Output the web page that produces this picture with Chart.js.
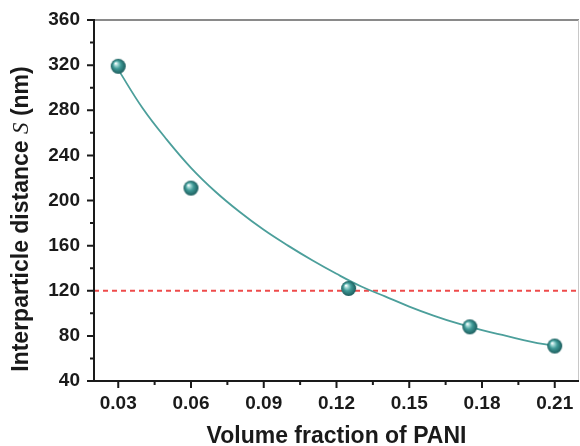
<!DOCTYPE html>
<html>
<head>
<meta charset="utf-8">
<script src="https://cdn.jsdelivr.net/npm/chart.js@4.4.0/dist/chart.umd.min.js"></script>
<style>
  body { margin: 0; background: #fff; }
  canvas { display: block; }
</style>
</head>
<body>
<canvas id="chart" width="580" height="446"></canvas>
<script>
// datos
const fractions = [0.03, 0.06, 0.125, 0.175, 0.21];
const distances = [319, 211, 122, 88, 71];

// curva de ajuste leída punto a punto
const fitFractions = [0.03, 0.04, 0.05, 0.06, 0.07, 0.08, 0.09, 0.10, 0.11, 0.12,
  0.13, 0.14, 0.15, 0.16, 0.17, 0.18, 0.19, 0.20, 0.21];
const fitDistances = [316, 282, 254, 229, 208, 190, 174, 160, 147, 135,
  124, 115, 106, 98, 91, 85, 80, 75, 71];

const threshold = 120;

const xTicks = [0.03, 0.06, 0.09, 0.12, 0.15, 0.18, 0.21];
const xMinor = [0.045, 0.075, 0.105, 0.135, 0.165, 0.195];
const yTicks = [40, 80, 120, 160, 200, 240, 280, 320, 360];
const yMinor = [60, 100, 140, 180, 220, 260, 300, 340];

const ink = "#1a1a1a";

// esfera 3D para los marcadores
function makeSphere(r) {
  const c = document.createElement("canvas");
  c.width = c.height = r * 2 + 2;
  const g = c.getContext("2d");
  const cx = r + 1, cy = r + 1;
  const grad = g.createRadialGradient(cx - r * 0.35, cy - r * 0.4, r * 0.05, cx, cy, r);
  grad.addColorStop(0, "#ffffff");
  grad.addColorStop(0.18, "#a8dcd9");
  grad.addColorStop(0.5, "#3f9a97");
  grad.addColorStop(1, "#1b5c5c");
  g.fillStyle = grad;
  g.beginPath();
  g.arc(cx, cy, r, 0, Math.PI * 2);
  g.fill();
  return c;
}
const sphere = makeSphere(7.5);

// marco, marcas menores y títulos de ejes
const framePlugin = {
  id: "frame",
  beforeDatasetsDraw(chart) {
    const { ctx, chartArea: a } = chart;
    ctx.save();
    // arriba y derecha en gris
    ctx.strokeStyle = "#8a8a8a";
    ctx.lineWidth = 2;
    ctx.beginPath();
    ctx.moveTo(a.left, a.top);
    ctx.lineTo(a.right, a.top);
    ctx.stroke();
    ctx.strokeStyle = "#c8c8c8";
    ctx.lineWidth = 1;
    ctx.beginPath();
    ctx.moveTo(a.right - 0.5, a.top);
    ctx.lineTo(a.right - 0.5, a.bottom);
    ctx.stroke();
    ctx.restore();
  },
  afterDraw(chart) {
    const { ctx, chartArea: a, scales } = chart;
    const x = scales.x, y = scales.y;
    ctx.save();
    ctx.strokeStyle = ink;
    ctx.lineWidth = 2;
    // ejes
    ctx.beginPath();
    ctx.moveTo(a.left, a.top - 1);
    ctx.lineTo(a.left, a.bottom);
    ctx.lineTo(a.right, a.bottom);
    ctx.stroke();
    // marcas
    ctx.beginPath();
    xTicks.forEach(v => { const px = x.getPixelForValue(v); ctx.moveTo(px, a.bottom); ctx.lineTo(px, a.bottom + 7); });
    xMinor.forEach(v => { const px = x.getPixelForValue(v); ctx.moveTo(px, a.bottom); ctx.lineTo(px, a.bottom + 4); });
    yTicks.forEach(v => { const py = y.getPixelForValue(v); ctx.moveTo(a.left, py); ctx.lineTo(a.left - 7, py); });
    yMinor.forEach(v => { const py = y.getPixelForValue(v); ctx.moveTo(a.left, py); ctx.lineTo(a.left - 4, py); });
    ctx.stroke();

    // título eje x
    ctx.fillStyle = ink;
    ctx.font = "bold 23px 'Liberation Sans', Arial, sans-serif";
    ctx.textAlign = "center";
    ctx.textBaseline = "alphabetic";
    ctx.fillText("Volume fraction of PANI", (a.left + a.right) / 2, 443);

    // título eje y con S en cursiva
    const parts = [
      { t: "Interparticle distance ", f: "bold 23px 'Liberation Sans', Arial, sans-serif" },
      { t: "S", f: "italic 23px 'Liberation Serif', serif" },
      { t: " (nm)", f: "bold 23px 'Liberation Sans', Arial, sans-serif" }
    ];
    let total = 0;
    parts.forEach(p => { ctx.font = p.f; p.w = ctx.measureText(p.t).width; total += p.w; });
    ctx.translate(28, 219);
    ctx.rotate(-Math.PI / 2);
    ctx.textAlign = "left";
    let cx = -total / 2;
    parts.forEach(p => { ctx.font = p.f; ctx.fillText(p.t, cx, 0); cx += p.w; });
    ctx.restore();
  }
};

const tickFont = { family: "'Liberation Sans', Arial, sans-serif", size: 19, weight: "bold" };

new Chart(document.getElementById("chart"), {
  type: "scatter",
  data: {
    datasets: [
      {
        label: "S",
        data: fractions.map((f, i) => ({ x: f, y: distances[i] })),
        pointStyle: sphere,
        pointRadius: 8,
        showLine: false
      },
      {
        label: "ajuste",
        data: fitFractions.map((f, i) => ({ x: f, y: fitDistances[i] })),
        showLine: true,
        borderColor: "#4c9f9b",
        borderWidth: 1.8,
        pointRadius: 0,
        tension: 0.4
      },
      {
        label: "umbral",
        data: [{ x: 0.02, y: threshold }, { x: 0.22, y: threshold }],
        showLine: true,
        borderColor: "#ee4b4b",
        borderWidth: 2,
        borderDash: [5, 4],
        pointRadius: 0
      }
    ]
  },
  options: {
    responsive: false,
    animation: false,
    devicePixelRatio: 1,
    layout: { autoPadding: false, padding: { top: 20, right: 1, left: 0, bottom: 0 } },
    plugins: {
      legend: { display: false },
      tooltip: { enabled: false }
    },
    scales: {
      x: {
        type: "linear",
        min: 0.02,
        max: 0.22,
        afterBuildTicks: s => { s.ticks = xTicks.map(v => ({ value: v })); },
        afterFit: s => { s.height = 65; s.paddingLeft = 0; s.paddingRight = 0; },
        grid: { display: false, drawTicks: false },
        border: { display: false },
        ticks: {
          padding: 11,
          color: ink,
          font: tickFont,
          callback: v => v.toFixed(2)
        }
      },
      y: {
        min: 40,
        max: 360,
        afterBuildTicks: s => { s.ticks = yTicks.map(v => ({ value: v })); },
        afterFit: s => { s.width = 94; s.paddingTop = 0; s.paddingBottom = 0; },
        grid: { display: false, drawTicks: false },
        border: { display: false },
        ticks: {
          padding: 14,
          color: ink,
          font: tickFont
        }
      }
    }
  },
  plugins: [framePlugin]
});
</script>
</body>
</html>
